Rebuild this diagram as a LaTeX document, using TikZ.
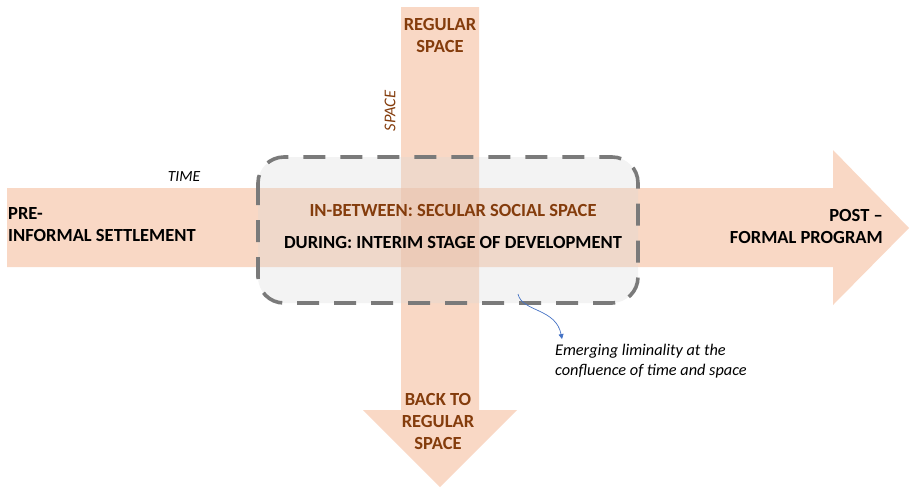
\documentclass[tikz,border=0pt]{standalone}
\usepackage{fontspec}
\setmainfont{Carlito}
\usetikzlibrary{arrows.meta}
\definecolor{arrowfill}{HTML}{F4B794}
\definecolor{zonefill}{HTML}{D7D7D7}
\definecolor{brownlabel}{HTML}{843C0C}
\definecolor{dashgray}{HTML}{7A7A7A}
\definecolor{noteblue}{HTML}{4472C4}
\tikzset{
  bandarrow/.style={fill=arrowfill, fill opacity=0.54, draw=none},
  stagelabel/.style={font=\fontsize{18.5}{22}\selectfont\bfseries, inner sep=0pt},
  axislabel/.style={font=\fontsize{15.5}{18}\selectfont\itshape, inner sep=0pt},
  midlabel/.style={font=\fontsize{18.5}{22}\selectfont\bfseries, inner sep=0pt},
}
\begin{document}
\begin{tikzpicture}[x=1pt,y=-1pt]
\useasboundingbox (0,0) rectangle (910,488);

% time axis: wide arrow pointing right
\fill[bandarrow]
  (7,188) -- (833,188) -- (833,150) -- (909,228) -- (833,305) -- (833,267) -- (7,267) -- cycle;

% space axis: wide arrow pointing down
\fill[bandarrow]
  (401,7) -- (479,7) -- (479,410) -- (517,410) -- (440,487) -- (363,410) -- (401,410) -- cycle;

% liminal zone where both axes meet
\fill[zonefill, fill opacity=0.3, rounded corners=26pt] (258,157) rectangle (638,303);
\draw[dashgray, line width=3.6pt, dash pattern=on 22pt off 15pt, rounded corners=26pt]
  (258,157) rectangle (638,303);

% labels on the time axis
\node[stagelabel, anchor=west, align=left] (pre) at (8,225) {PRE-\\INFORMAL SETTLEMENT};
\node[stagelabel, anchor=east, align=right] (post) at (883,226.5) {POST –\\FORMAL PROGRAM};
\node[axislabel] (time) at (184,177) {TIME};

% labels on the space axis
\node[stagelabel, align=center, text=brownlabel] (regular) at (440,35.5) {REGULAR\\SPACE};
\node[stagelabel, align=center, text=brownlabel] (back) at (438,421) {BACK TO\\REGULAR\\SPACE};
\node[axislabel, font=\fontsize{16.5}{18}\selectfont\itshape, text=brownlabel, rotate=90] (space) at (390,111) {SPACE};

% labels inside the liminal zone
\node[midlabel, text=brownlabel] (between) at (453,210) {IN-BETWEEN: SECULAR SOCIAL SPACE};
\node[midlabel] (during) at (453,242) {DURING: INTERIM STAGE OF DEVELOPMENT};

% note and its pointer
\node[font=\fontsize{16.3}{19.5}\selectfont\itshape, anchor=west, align=left, inner sep=0pt]
  (note) at (555,361) {Emerging liminality at the\\confluence of time and space};
\coordinate (zone) at (518,294);
\coordinate (notetip) at ([xshift=7pt,yshift=5pt]note.north west);
\draw[noteblue, line width=0.7pt, -{Triangle[length=5pt,width=5pt]}]
  (zone) .. controls (522,312) and (556,308) .. (notetip);
\end{tikzpicture}
\end{document}
